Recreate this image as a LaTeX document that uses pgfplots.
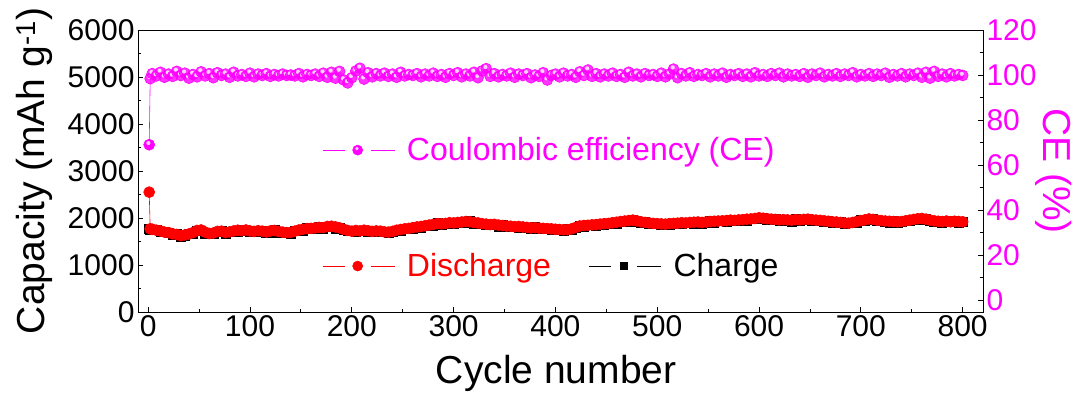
\documentclass[border=0pt]{standalone}
\usepackage{pgfplots}
\pgfplotsset{compat=1.18}
\usepackage{pgfplotstable}
\usepackage{fontspec}
\setmainfont{Liberation Sans}

\definecolor{cemag}{RGB}{255,0,255}
\definecolor{dred}{RGB}{255,0,0}

\newcommand\labelfont{\fontsize{39}{41}\selectfont}

% shaded-look sphere mark for the coulombic efficiency series
\pgfdeclareplotmark{cesphere}{%
  \pgfsetfillcolor{cemag}\pgfsetstrokecolor{cemag}%
  \pgfpathcircle{\pgfpointorigin}{\pgfplotmarksize}%
  \pgfusepathqfillstroke
  \pgfsetfillcolor{white}\pgfsetfillopacity{0.8}%
  \pgfpathcircle{\pgfpoint{-0.15\pgfplotmarksize}{0.3\pgfplotmarksize}}{0.38\pgfplotmarksize}%
  \pgfusepathqfill
}

% cycle, discharge capacity, charge capacity (mAh/g), coulombic efficiency (%)
\pgfplotstableread{
cyc dis chg ce
1 2550 1760 69.0
2 1770 1755 98.4
4 1760 1745 100.6
8 1740 1745 99.6
12 1725 1700 101.2
16 1700 1700 99.0
20 1690 1680 100.4
24 1665 1635 99.4
28 1650 1660 101.6
32 1625 1605 99.8
36 1640 1625 100.8
40 1660 1665 98.6
44 1690 1665 100.2
48 1735 1735 99.2
52 1745 1735 101.4
56 1700 1670 99.6
60 1670 1680 100.6
64 1680 1660 98.8
68 1715 1700 101.0
72 1720 1725 99.8
76 1690 1665 100.4
80 1705 1705 99.0
84 1725 1715 101.2
88 1740 1710 99.6
92 1730 1740 100.2
96 1745 1725 99.4
100 1725 1710 100.8
104 1715 1720 99.2
108 1730 1705 100.4
112 1720 1720 99.8
116 1705 1695 100.6
120 1725 1695 99.4
124 1735 1745 100.2
128 1715 1695 99.6
132 1700 1685 100.4
136 1690 1695 99.8
140 1695 1670 100.0
144 1720 1720 99.6
148 1745 1735 100.6
152 1760 1730 99.2
156 1775 1785 100.2
160 1780 1760 99.8
164 1790 1775 100.4
168 1800 1805 99.4
172 1795 1770 100.8
176 1820 1820 99.0
180 1825 1815 101.2
184 1810 1780 98.6
188 1790 1800 101.6
192 1760 1740 97.8
196 1735 1720 96.5
200 1720 1725 98.8
204 1735 1710 101.8
208 1725 1725 103.0
212 1740 1730 98.2
216 1730 1700 101.0
220 1715 1725 99.2
224 1725 1705 100.6
228 1720 1705 99.6
232 1705 1710 100.8
236 1700 1675 99.4
240 1715 1715 100.4
244 1740 1730 99.0
248 1755 1725 101.2
252 1770 1780 99.6
256 1780 1760 100.2
260 1795 1780 99.8
264 1810 1815 100.6
268 1820 1795 99.2
272 1835 1835 100.4
276 1850 1840 99.6
280 1865 1835 100.8
284 1880 1890 99.4
288 1875 1855 100.2
292 1885 1870 99.0
296 1900 1905 100.6
300 1895 1870 99.8
304 1905 1905 101.0
308 1915 1905 99.2
312 1925 1895 100.4
316 1920 1930 99.6
320 1905 1885 101.2
324 1895 1880 98.8
328 1880 1885 101.8
332 1870 1845 102.8
336 1860 1860 99.4
340 1865 1855 100.6
344 1850 1820 99.2
348 1840 1850 100.2
352 1830 1810 99.6
356 1825 1810 100.8
360 1815 1820 99.0
364 1820 1795 100.4
368 1810 1810 99.8
372 1800 1790 100.6
376 1790 1760 98.8
380 1795 1805 100.0
384 1785 1765 99.4
388 1780 1765 101.0
392 1775 1780 97.8
396 1770 1745 99.8
400 1760 1760 100.4
404 1755 1745 99.2
408 1750 1720 100.8
412 1750 1760 99.6
416 1770 1750 100.2
420 1800 1785 99.0
424 1830 1835 101.4
428 1840 1815 99.8
432 1845 1845 102.2
436 1855 1845 99.4
440 1860 1830 100.6
444 1870 1880 99.2
448 1880 1860 100.4
452 1885 1870 99.6
456 1900 1905 100.8
460 1910 1885 99.4
464 1925 1925 100.2
468 1935 1925 99.0
472 1945 1915 101.2
476 1955 1965 99.6
480 1940 1920 100.4
484 1920 1905 99.2
488 1905 1910 100.6
492 1895 1870 99.8
496 1885 1885 100.2
500 1880 1870 99.4
504 1875 1845 100.8
508 1870 1880 99.2
512 1880 1860 100.4
516 1885 1870 102.6
520 1890 1895 98.8
524 1900 1875 100.6
528 1895 1895 99.6
532 1905 1895 101.0
536 1910 1880 99.4
540 1915 1925 100.2
544 1905 1885 99.8
548 1915 1900 100.6
552 1925 1930 99.2
556 1930 1905 100.4
560 1935 1935 99.6
564 1940 1930 100.8
568 1945 1915 99.0
572 1955 1965 100.2
576 1950 1930 99.8
580 1960 1945 100.6
584 1965 1970 99.4
588 1975 1950 100.4
592 1980 1980 99.2
596 1990 1980 101.0
600 2005 1975 99.6
604 1995 2005 100.2
608 1985 1965 99.4
612 1975 1960 100.6
616 1970 1975 99.8
620 1960 1935 100.8
624 1965 1965 99.2
628 1960 1950 100.4
632 1955 1925 99.6
636 1965 1975 100.2
640 1960 1940 99.4
644 1970 1955 100.6
648 1975 1980 99.0
652 1965 1940 100.4
656 1955 1955 99.8
660 1950 1940 100.8
664 1940 1910 99.2
668 1930 1940 100.2
672 1920 1900 99.6
676 1915 1900 100.6
680 1905 1910 99.4
684 1895 1870 100.4
688 1890 1890 99.8
692 1905 1895 101.0
696 1925 1895 99.2
700 1945 1955 100.2
704 1960 1940 99.6
708 1980 1965 100.6
712 1970 1975 99.4
716 1955 1930 100.4
720 1945 1945 99.8
724 1935 1925 100.8
728 1930 1900 99.0
732 1925 1935 100.2
736 1920 1900 99.6
740 1925 1910 100.6
744 1940 1945 99.2
748 1955 1930 100.4
752 1970 1970 99.8
756 1985 1975 100.8
760 1990 1960 99.0
764 1975 1985 101.2
768 1955 1935 98.6
772 1940 1925 101.6
776 1930 1935 99.4
780 1925 1900 100.4
784 1935 1935 99.2
788 1920 1910 100.6
792 1930 1935 99.6
796 1925 1900 100.2
800 1920 1925 99.8
}\cycdata

\pgfplotsset{
  framestyle/.style={
    scale only axis, width=845pt, height=282pt,
    at={(138pt,80pt)}, anchor=south west,
    xmin=-10, xmax=820,
    tick align=inside,
    major tick length=5pt, minor tick length=3pt,
    every tick/.style={black, line width=0.8pt},
    axis line style={black, line width=0.8pt},
    tick label style={font=\fontsize{30}{32}\selectfont},
    /pgf/number format/assume math mode=true,
    /pgf/number format/set thousands separator={},
    scaled y ticks=false,
    legend style={draw=none, fill=none, font=\fontsize{32}{34}\selectfont,
      inner xsep=0pt, inner ysep=0pt},
    legend cell align=left,
    legend image code/.code={
      \draw[##1, mark=none, line width=0.5pt] (0pt,0pt) -- (22pt,0pt) (48pt,0pt) -- (72pt,0pt);
      \draw[##1, only marks] plot coordinates {(35pt,0pt)};
      \path (82pt,0pt);
    },
  },
  dischargestyle/.style={dred, line width=0.6pt, mark=*, mark size=5.5pt,
    mark options={fill=dred, draw=dred}},
  chargestyle/.style={black, line width=0.6pt, mark=square*, mark size=4.5pt,
    mark options={fill=black, draw=black}},
  cestyle/.style={cemag, line width=0.6pt, mark=cesphere, mark size=5.5pt},
}

\begin{document}
\begin{tikzpicture}
% capacity (left axis)
\begin{axis}[framestyle,
  ymin=0, ymax=6000, ytick={0,1000,...,6000}, minor y tick num=1,
  xtick={0,100,...,800}, minor x tick num=1,
  xtick pos=left, ytick pos=left,
  xlabel={Cycle number},
  ylabel={Capacity (mAh g\textsuperscript{-1})},
  every axis x label/.style={at={(axis description cs:0.495,-0.252)}, anchor=base, font=\labelfont},
  every axis y label/.style={at={(axis description cs:-0.122,0.5)}, anchor=center, rotate=90, font=\labelfont},
  legend columns=2,
  legend style={at={(axis description cs:0.218,0.163)}, anchor=west,
    /tikz/every even column/.append style={column sep=36pt}},
]
\addlegendimage{dischargestyle, mark size=5pt}
\addlegendentry{\textcolor{dred}{Discharge}}
\addlegendimage{chargestyle, mark size=3.5pt}
\addlegendentry{Charge}
\addplot[chargestyle, forget plot] table[x=cyc, y=chg] {\cycdata};
\addplot[dischargestyle, forget plot] table[x=cyc, y=dis] {\cycdata};
\end{axis}
% coulombic efficiency (right axis)
\begin{axis}[framestyle,
  ymin=-5.333, ymax=120, ytick={0,20,...,120}, minor y tick num=1,
  xtick=\empty, ytick pos=right,
  yticklabel style={text=cemag},
  ylabel={CE (\%)},
  every axis y label/.style={at={(axis description cs:1.083,0.5)}, anchor=center, rotate=-90, text=cemag, font=\labelfont},
  legend style={at={(axis description cs:0.218,0.574)}, anchor=west},
]
\addlegendimage{cestyle, mark size=5pt}
\addlegendentry{\textcolor{cemag}{Coulombic efficiency (CE)}}
\addplot[cestyle, forget plot] table[x=cyc, y=ce] {\cycdata};
\end{axis}
\pgfresetboundingbox
\path (0pt,0pt) rectangle (1078pt,392pt);
\end{tikzpicture}
\end{document}
